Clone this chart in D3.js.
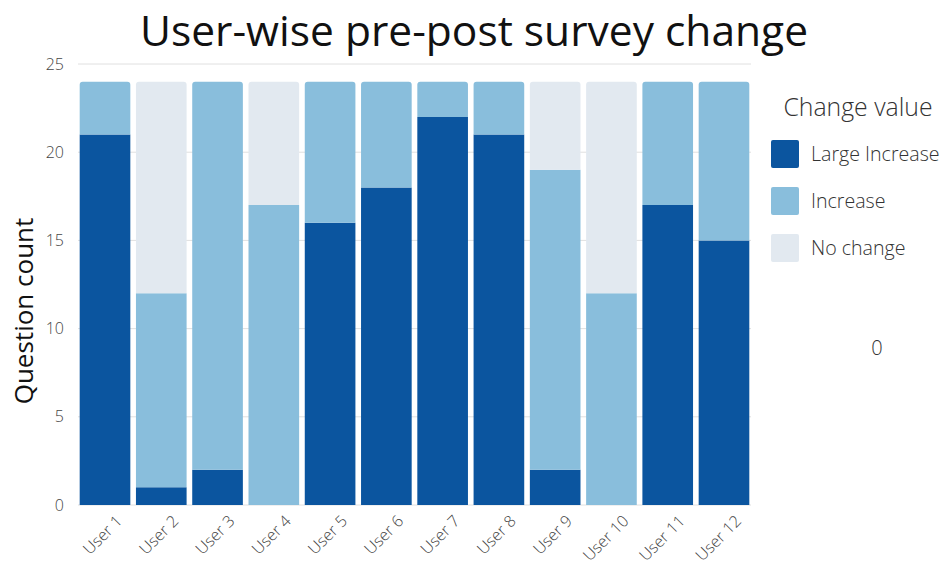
<!DOCTYPE html>
<html>
<head>
<meta charset="utf-8">
<script src="https://cdn.jsdelivr.net/npm/d3@7"></script>
<style>
  body { margin: 0; background: #fff; font-family: "Open Sans", sans-serif; }
</style>
</head>
<body>
<div id="chart"></div>
<script>
const users = ["User 1", "User 2", "User 3", "User 4", "User 5", "User 6",
               "User 7", "User 8", "User 9", "User 10", "User 11", "User 12"];
const largeIncrease = [21, 1, 2, 0, 16, 18, 22, 21, 2, 0, 17, 15];
const increase      = [3, 11, 22, 17, 8, 6, 2, 3, 17, 12, 7, 9];
const noChange      = [0, 12, 0, 7, 0, 0, 0, 0, 5, 12, 0, 0];
const changeKeys = ["Large Increase", "Increase", "No change"];
const yTicks = [0, 5, 10, 15, 20, 25];

const W = 945, H = 568;
const margin = { top: 64, right: 194, bottom: 63, left: 78 };
const width = W - margin.left - margin.right;
const height = H - margin.top - margin.bottom;

const svg = d3.select("#chart").append("svg")
    .attr("width", W)
    .attr("height", H);

const g = svg.append("g")
    .attr("transform", `translate(${margin.left},${margin.top})`);

const rows = users.map((u, i) => ({
    user: u,
    "Large Increase": largeIncrease[i],
    "Increase": increase[i],
    "No change": noChange[i]
}));

const color = d3.scaleOrdinal()
    .domain(changeKeys)
    .range(["#0b559f", "#89bedc", "#e2e9f0"]);

const x = d3.scaleBand()
    .domain(users)
    .range([0, width])
    .paddingInner(0.1)
    .paddingOuter(0.03);

const y = d3.scaleLinear()
    .domain([0, 25])
    .range([height, 0]);

// gridlines
g.append("g")
    .selectAll("line")
    .data(yTicks)
    .join("line")
    .attr("x1", 0)
    .attr("x2", width)
    .attr("y1", d => y(d))
    .attr("y2", d => y(d))
    .attr("stroke", "#e0e0e0")
    .attr("stroke-width", 1);

// y axis labels
const yAxis = g.append("g")
    .call(d3.axisLeft(y).tickValues(yTicks).tickSize(0).tickPadding(14));
yAxis.select(".domain").remove();
yAxis.selectAll("text")
    .style("font-family", "Open Sans")
    .style("font-size", "16px")
    .style("font-weight", 300)
    .attr("fill", "#444");

// stacked bars
const series = d3.stack().keys(changeKeys)(rows);
const r = 3;

function segPath(x0, y0, w, h, rounded) {
    if (!rounded) return `M${x0},${y0}h${w}v${h}h${-w}Z`;
    return `M${x0},${y0 + h}V${y0 + r}Q${x0},${y0} ${x0 + r},${y0}` +
           `H${x0 + w - r}Q${x0 + w},${y0} ${x0 + w},${y0 + r}V${y0 + h}Z`;
}

series.forEach((s, si) => {
    g.append("g")
        .selectAll("path")
        .data(s.filter(d => d[1] > d[0]))
        .join("path")
        .attr("fill", color(s.key))
        .attr("d", d => {
            // top segment gets rounded corners
            const isTop = changeKeys.slice(si + 1).every(k => d.data[k] === 0);
            const x0 = x(d.data.user);
            const y0 = y(d[1]);
            return segPath(x0, y0, x.bandwidth(), y(d[0]) - y0, isTop);
        });
});

// x axis labels
const xAxis = g.append("g")
    .attr("transform", `translate(0,${height})`)
    .call(d3.axisBottom(x).tickSize(0));
xAxis.select(".domain").remove();
xAxis.selectAll("text")
    .style("font-family", "Open Sans")
    .style("font-size", "16px")
    .style("font-weight", 300)
    .attr("fill", "#444")
    .attr("text-anchor", "end")
    .attr("x", 0)
    .attr("y", 0)
    .attr("dy", "0.72em")
    .attr("transform", "translate(10,9) rotate(-45)");

// title
svg.append("text")
    .attr("x", 474)
    .attr("y", 46)
    .attr("text-anchor", "middle")
    .style("font-family", "Open Sans")
    .style("font-size", "42.5px")
    .attr("fill", "#111")
    .text("User-wise pre-post survey change");

// y title
svg.append("text")
    .attr("transform", "translate(33,311) rotate(-90)")
    .attr("text-anchor", "middle")
    .style("font-family", "Open Sans")
    .style("font-size", "26px")
    .attr("fill", "#111")
    .text("Question count");

// legend
const legend = svg.append("g")
    .attr("transform", "translate(771,0)");

legend.append("text")
    .attr("x", 87)
    .attr("y", 116)
    .attr("text-anchor", "middle")
    .style("font-family", "Open Sans")
    .style("font-size", "24.8px")
    .style("font-weight", 300)
    .attr("fill", "#333")
    .text("Change value");

changeKeys.forEach((k, i) => {
    const yy = 140 + i * 47;
    legend.append("rect")
        .attr("x", 0)
        .attr("y", yy)
        .attr("width", 28)
        .attr("height", 28)
        .attr("rx", 2)
        .attr("fill", color(k));
    legend.append("text")
        .attr("x", 40)
        .attr("y", yy + 14)
        .attr("dy", "0.35em")
        .style("font-family", "Open Sans")
        .style("font-size", "19.6px")
        .style("font-weight", 300)
        .attr("fill", "#333")
        .text(k);
});

svg.append("text")
    .attr("x", 877)
    .attr("y", 348)
    .attr("dy", "0.35em")
    .attr("text-anchor", "middle")
    .style("font-family", "Open Sans")
    .style("font-size", "20px")
    .style("font-weight", 300)
    .attr("fill", "#333")
    .text("0");
</script>
</body>
</html>
